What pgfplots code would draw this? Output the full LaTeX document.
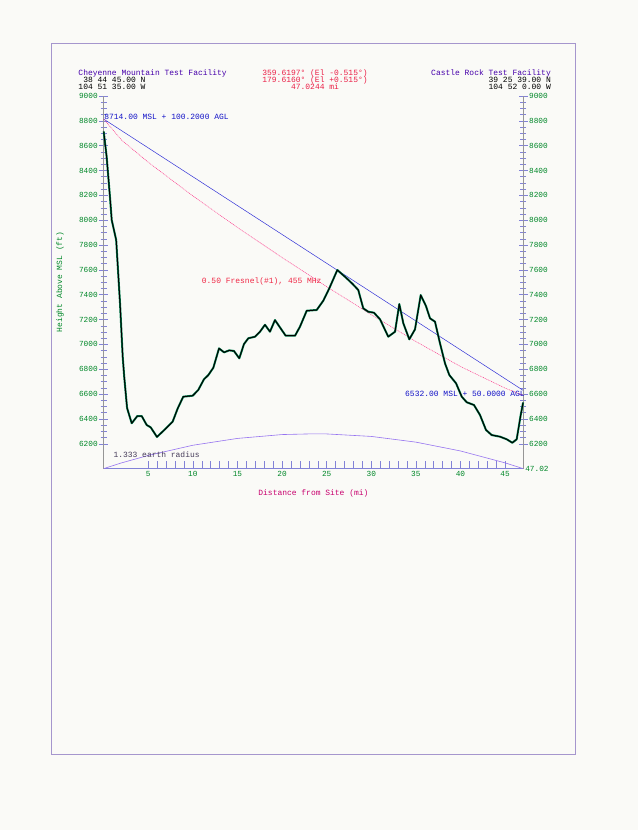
\documentclass[border=0pt]{standalone}
\usepackage{pgfplots}
\pgfplotsset{compat=1.18}
\usepackage{fontspec}
\setmainfont{Liberation Mono}
\definecolor{tickgreen}{RGB}{0,135,40}
\definecolor{bgwhite}{RGB}{250,250,247}
\definecolor{pagebord}{RGB}{165,150,205}
\definecolor{losblue}{RGB}{50,50,215}
\definecolor{fresnelpink}{RGB}{250,60,140}
\definecolor{eartharc}{RGB}{150,115,240}
\definecolor{terrgreen}{RGB}{0,130,80}
\definecolor{titlepurple}{RGB}{70,0,170}
\definecolor{hdrred}{RGB}{235,30,70}
\definecolor{annblue}{RGB}{20,20,200}
\definecolor{annred}{RGB}{240,40,70}
\definecolor{anngray}{RGB}{70,60,90}
\definecolor{xlabcol}{RGB}{200,0,110}
\definecolor{axgray}{RGB}{150,150,150}
\definecolor{ticklav}{RGB}{130,130,215}
\pgfplotstableread{
x y
0 8714
0.33 8511
0.7 8189
0.9 8001
1.4 7840
1.83 7331
2.13 6901
2.3 6740
2.62 6488
3.14 6365
3.77 6423
4.26 6423
4.82 6351
5.27 6332
5.97 6255
6.87 6316
7.73 6378
8.3 6485
8.92 6579
9.98 6587
10.6 6633
11.24 6719
11.73 6753
12.29 6812
12.93 6968
13.49 6936
14.08 6952
14.6 6947
15.2 6888
15.73 7003
16.21 7049
16.96 7062
17.52 7102
18.08 7158
18.64 7102
19.2 7196
19.76 7137
20.4 7070
21.45 7070
22.0 7142
22.76 7271
23.88 7277
24.62 7352
25.29 7451
26.19 7599
27.24 7532
27.91 7486
28.54 7438
29.1 7290
29.67 7263
30.3 7255
30.98 7202
31.9 7062
32.66 7102
33.14 7325
33.59 7170
34.26 7041
34.9 7121
35.54 7397
36.13 7309
36.58 7210
37.14 7183
37.7 7009
38.26 6848
38.75 6753
39.5 6687
40.14 6579
40.7 6534
41.51 6512
42.19 6431
42.86 6311
43.5 6270
44.43 6257
45.18 6236
45.81 6208
46.3 6236
46.75 6431
47.02 6532
}\terrain
\pgfplotstableread{
x y
0 8814
2 8645
5 8466
10 8195
15 7941
20 7699
25 7465
30 7239
35 7023
40 6822
45 6648
47.02 6590
}\fresnel
\pgfplotstableread{
x y
0 6000
2 6046
5 6106
10 6188
15 6243
20 6274
23.51 6280
25 6279
30 6259
35 6213
40 6142
45 6046
47.02 6000
}\earth
\begin{document}
\begin{tikzpicture}[x=1bp,y=1bp]
\fill[bgwhite] (0,0) rectangle (638,830);
\draw[pagebord, line width=0.8bp] (51,76) rectangle (575,786.7);
\pgfplotsset{base/.style={
  at={(103.7bp,361.4bp)}, anchor=south west, scale only axis,
  width=419.4bp, height=372.6bp,
  xmin=0, xmax=47.02, ymin=6000, ymax=9000,
  ticklabel style={font=\fontsize{7.8}{8}\selectfont, text=tickgreen},
  /pgf/number format/assume math mode=true,
  /pgf/number format/1000 sep={},
}}
% left y axis
\begin{axis}[base, hide x axis, axis y line*=left,
  axis line style={axgray, line width=0.6bp, -},
  ytick={6200,6400,...,9000}, minor y tick num=3,
  tick align=center, major tick length=9bp, minor tick length=6bp,
  every tick/.style={ticklav, line width=0.5bp},
  yticklabel style={xshift=2bp}]
\end{axis}
% right y axis
\begin{axis}[base, hide x axis, axis y line*=right,
  axis line style={axgray, line width=0.6bp, -},
  ytick={6200,6400,...,9000}, minor y tick num=3,
  tick align=center, major tick length=9bp, minor tick length=6bp,
  every tick/.style={ticklav, line width=0.5bp},
  yticklabel style={xshift=-2bp}]
\end{axis}
% main axis with bottom x axis and data
\begin{axis}[base, hide y axis, axis x line*=bottom, clip=false,
  axis line style={ticklav, line width=0.6bp, -},
  xtick={5,10,...,45}, minor x tick num=4,
  tick align=inside, major tick length=8bp, minor tick length=8bp,
  every tick/.style={ticklav, line width=0.5bp},
  xticklabel style={yshift=1bp}]
\addplot[eartharc, line width=0.6bp] table[x=x,y=y] {\earth};
\addplot[losblue, line width=0.5bp] coordinates {(0,8814) (47.02,6630)};
\addplot[fresnelpink, line width=0.5bp, dash pattern=on 1bp off 0.8bp] table[x=x,y=y] {\fresnel};
\addplot[terrgreen, line width=2.0bp, line join=round] table[x=x,y=y] {\terrain};
\addplot[black, line width=1.0bp, line join=round] table[x=x,y=y] {\terrain};
\node[anchor=west, inner sep=0, annblue, font=\fontsize{8}{8}\selectfont] at (axis cs:0.05,8833) {8714.00 MSL + 100.2000 AGL};
\node[anchor=west, inner sep=0, annred, font=\fontsize{8}{8}\selectfont] at (axis cs:10.99,7505) {0.50 Fresnel(\#1), 455 MHz};
\node[anchor=west, inner sep=0, annblue, font=\fontsize{8}{8}\selectfont] at (axis cs:33.78,6600) {6532.00 MSL + 50.0000 AGL};
\node[anchor=west, inner sep=0, anngray, font=\fontsize{8}{8}\selectfont] at (axis cs:1.08,6109) {1.333 earth radius};
\node[anchor=west, inner sep=0, tickgreen, font=\fontsize{7.8}{8}\selectfont] at (rel axis cs:1,0) {\hspace*{2bp}47.02};
\node[anchor=center, inner sep=0, xlabcol, font=\fontsize{8}{8}\selectfont] at (rel axis cs:0.5,-0.066) {Distance from Site (mi)};
\end{axis}
\node[rotate=90, anchor=center, inner sep=0, tickgreen, font=\fontsize{8}{8}\selectfont] at (60,548) {Height Above MSL (ft)};
% header
\begin{scope}[every node/.style={inner sep=0, font=\fontsize{8}{8}\selectfont}]
\node[anchor=base west, titlepurple] at (78.3,754.5) {Cheyenne Mountain Test Facility};
\node[anchor=base west] at (78.3,747.5) {\hspace*{4.8bp}38 44 45.00 N};
\node[anchor=base west] at (78.3,740.5) {104 51 35.00 W};
\node[anchor=base, hdrred] at (315,754.5) {359.6197° (El -0.515°)};
\node[anchor=base, hdrred] at (315,747.5) {179.6160° (El +0.515°)};
\node[anchor=base, hdrred] at (315,740.5) {47.0244 mi};
\node[anchor=base east, titlepurple] at (551,754.5) {Castle Rock Test Facility};
\node[anchor=base east] at (551,747.5) {39 25 39.00 N};
\node[anchor=base east] at (551,740.5) {104 52 0.00 W};
\end{scope}
\end{tikzpicture}
\end{document}
